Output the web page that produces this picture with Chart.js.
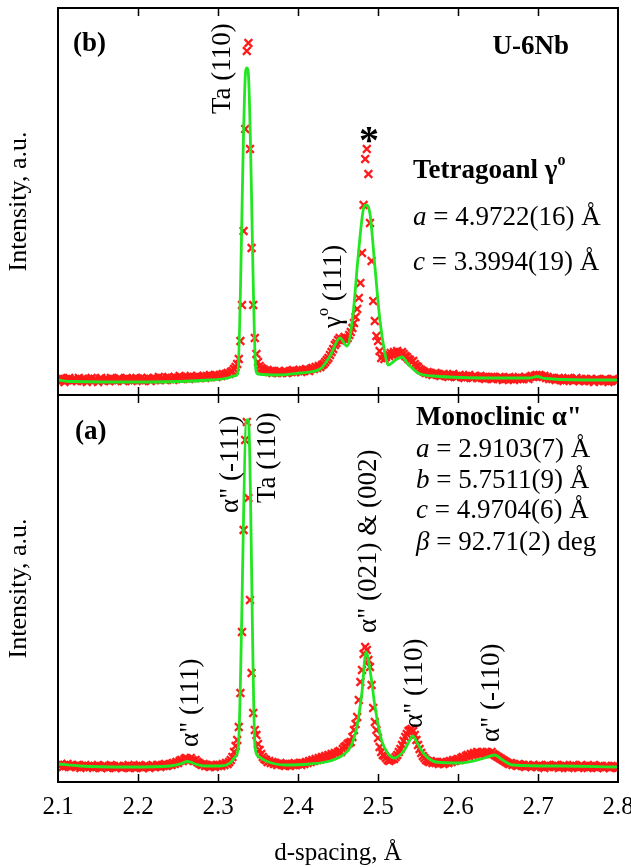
<!DOCTYPE html>
<html>
<head>
<meta charset="utf-8">
<title>U-6Nb diffraction</title>
<script src="https://cdn.jsdelivr.net/npm/chart.js@4.4.1/dist/chart.umd.min.js"></script>
<style>
  html, body { margin: 0; padding: 0; background: #fff; }
  #wrap { width: 631px; height: 867px; }
</style>
</head>
<body>
<div id="wrap"><canvas id="xrd" width="631" height="867"></canvas></div>
<script>
// d-spacing axis
const dTicks = [2.1, 2.2, 2.3, 2.4, 2.5, 2.6, 2.7, 2.8];
const dStart = 2.1;
const dStep = 0.002; // scan step of the observed data

// (b) top panel, observed intensity (a.u.) on the scan grid
const obsB = [
  16,14,17,15,13,16,15,17,14,15, 15,16,14,17,15,14,16,15,13,16,
  15,17,14,16,15,13,16,17,15,14, 16,15,14,17,15,16,14,15,17,16,
  15,14,16,17,15,16,14,16,15,17, 16,15,17,14,16,15,17,16,14,16,
  17,15,16,18,15,17,16,15,17,18, 16,17,15,18,16,17,19,16,17,18,
  17,18,16,19,17,18,17,19,18,17, 18,19,17,19,18,20,18,19,20,18,
  19,20,19,21,20,21,22,21,23,24, 26,28,31,36,54,90,164,266,344,352,
  246,147,90,57,41,33,29,27,26,25, 24,25,23,24,22,24,23,22,24,23,
  22,23,24,22,23,24,23,25,23,24, 24,25,23,25,24,26,25,24,26,27,
  26,28,27,29,28,30,31,33,35,37, 40,43,46,50,52,55,57,54,56,58,
  55,57,60,63,67,72,78,86,97,112, 142,190,236,246,221,172,134,94,74,59,
  54,44,37,40,36,38,41,39,42,40, 43,41,44,42,40,43,41,39,38,36,
  35,33,34,31,29,28,26,25,24,23, 22,23,21,22,20,21,22,20,21,19,
  20,21,19,20,18,20,19,21,19,18, 19,20,18,19,17,19,18,20,18,17,
  18,19,17,18,19,17,18,16,18,17, 17,18,16,18,17,16,18,17,15,17,
  16,17,18,16,17,15,17,16,18,16, 17,16,18,17,16,18,19,18,19,20,
  19,20,19,18,19,17,18,16,17,16, 17,15,16,17,15,16,14,16,15,17,
  15,16,14,15,17,15,14,16,15,14, 16,15,14,16,15,13,15,16,14,15,
  15,14,16,15,13,15,14,16,15,14,15
];

// (a) bottom panel, observed intensity (a.u.) on the scan grid
const obsA = [
  17,16,18,15,17,16,18,16,15,17, 16,15,17,16,14,16,15,17,15,16,
  15,16,14,16,15,17,15,14,16,15, 16,14,15,17,15,16,14,15,16,15,
  14,16,15,15,17,14,16,15,14,16, 15,17,15,14,16,15,16,14,15,17,
  16,15,17,16,15,17,16,18,16,17, 18,17,19,18,20,19,21,22,21,23,
  24,23,22,24,22,21,22,20,19,18, 17,18,16,17,16,15,17,16,15,17,
  16,17,16,18,17,19,18,20,22,25, 30,36,42,55,89,150,252,342,360,284,
  182,109,69,52,47,38,32,28,25,23, 22,20,21,19,20,18,19,17,18,19,
  17,18,16,18,17,16,18,17,19,17, 18,19,17,19,18,20,19,21,20,22,
  21,23,22,24,23,25,24,26,25,27, 26,28,27,29,28,30,31,30,33,35,
  36,38,39,40,45,52,58,65,82,100, 112,128,135,132,122,115,97,74,60,52,
  44,35,30,27,26,24,22,21,22,23, 23,25,27,30,33,37,41,45,48,51,
  52,53,51,47,42,37,33,29,26,24, 22,21,20,21,19,20,19,20,18,19,
  20,18,19,20,19,21,20,22,21,22, 23,22,24,25,24,26,27,26,28,27,
  29,28,30,29,28,30,29,28,30,29, 28,30,28,27,26,25,24,23,22,21,
  20,19,18,19,17,18,17,16,18,17, 16,17,15,16,17,16,15,17,16,15,
  16,17,15,16,14,16,17,15,16,16, 15,17,16,14,16,15,17,16,15,14,
  16,15,17,15,16,14,15,17,16,15, 16,14,15,16,15,17,15,14,16,15,
  16,14,15,16,15,14,16,15,16,15,14
];

// calculated profiles (fit)
const calcBD = [2.1, 2.115, 2.215, 2.29, 2.3125, 2.32, 2.3246, 2.3346, 2.3363, 2.3379, 2.3475, 2.35,
  2.3775, 2.4025, 2.4275, 2.44, 2.4525, 2.4613, 2.4688, 2.475, 2.4813, 2.485, 2.49, 2.4963,
  2.5025, 2.5088, 2.5125, 2.5188, 2.5238, 2.53, 2.5375, 2.55, 2.5688, 2.6525, 2.69, 2.6988,
  2.7088, 2.7775, 2.8];
const calcB = [15, 13.5, 13, 15, 17, 19, 21, 324, 327, 322, 24, 21,
  20, 22, 26, 39, 57, 49, 81, 137, 184, 190, 181, 127,
  74, 41, 30, 33, 36, 38, 31, 22, 19, 17, 17, 18.5,
  16.5, 15, 15];

const calcAD = [2.1, 2.1275, 2.19, 2.24, 2.2525, 2.2625, 2.2713, 2.2838, 2.3025, 2.315, 2.3213, 2.3254,
  2.3359, 2.3379, 2.3463, 2.35, 2.36, 2.3838, 2.415, 2.44, 2.4563, 2.4663, 2.4738, 2.48,
  2.485, 2.4913, 2.4963, 2.5044, 2.512, 2.52, 2.5321, 2.5398, 2.5433, 2.5498, 2.5575, 2.5725,
  2.6025, 2.6331, 2.6458, 2.6558, 2.6684, 2.7275, 2.8];
const calcA = [18, 16, 15, 16, 18, 20.5, 18, 16, 16, 19, 25, 35,
  362, 362, 35, 26, 21, 17, 18, 21, 27, 36, 56, 90,
  130, 105, 75, 42, 29, 24, 31, 42, 46, 38, 28, 20,
  19, 24, 27, 22, 17, 16, 15];

const serif = '"Liberation Serif", "Times New Roman", Times, serif';
const red = '#ff1a1a';
const green = '#22e622';

const R = (t, s = 27) => ({ t, font: `${s}px ${serif}` });
const I = (t, s = 27) => ({ t, font: `italic ${s}px ${serif}` });
const B = (t, s = 27) => ({ t, font: `bold ${s}px ${serif}` });
const SUP = (t, bold) => ({ t, font: `${bold ? 'bold ' : ''}16px ${serif}`, dy: -10 });

// text placed in data coordinates of each panel
const notes = [
  { axis: 'yb', d: 2.11875, v: 351, segs: [B('(b)')] },
  { axis: 'yb', d: 2.73875, v: 348, align: 'right', segs: [B('U-6Nb')] },
  { axis: 'yb', d: 2.30625, v: 281, rot: true, segs: [R('Ta (110)')] },
  { axis: 'yb', d: 2.445, v: 67, rot: true, segs: [R('γ'), SUP('o'), R(' (111)')] },
  { axis: 'yb', d: 2.48875, v: 252, align: 'center', segs: [B('*', 40)] },
  { axis: 'yb', d: 2.54375, v: 224, segs: [B('Tetragoanl γ'), SUP('o', true)] },
  { axis: 'yb', d: 2.54375, v: 177, segs: [I('a'), R(' = 4.9722(16) Å')] },
  { axis: 'yb', d: 2.54375, v: 132, segs: [I('c'), R(' = 3.3994(19) Å')] },

  { axis: 'ya', d: 2.12125, v: 350, segs: [B('(a)')] },
  { axis: 'ya', d: 2.5475, v: 364, segs: [B('Monoclinic α"')] },
  { axis: 'ya', d: 2.5475, v: 332, segs: [I('a'), R(' = 2.9103(7) Å')] },
  { axis: 'ya', d: 2.5475, v: 301, segs: [I('b'), R(' = 5.7511(9) Å')] },
  { axis: 'ya', d: 2.5475, v: 271, segs: [I('c'), R(' = 4.9704(6) Å')] },
  { axis: 'ya', d: 2.5475, v: 239, segs: [I('β'), R(' = 92.71(2) deg')] },
  { axis: 'ya', d: 2.26625, v: 35, rot: true, segs: [R('α" (111)')] },
  { axis: 'ya', d: 2.31625, v: 269, rot: true, segs: [R('α" (-111)')] },
  { axis: 'ya', d: 2.3625, v: 279, rot: true, segs: [R('Ta (110)')] },
  { axis: 'ya', d: 2.48875, v: 149, rot: true, segs: [R('α" (021) & (002)')] },
  { axis: 'ya', d: 2.54625, v: 54, rot: true, segs: [R('α" (110)')] },
  { axis: 'ya', d: 2.6425, v: 40, rot: true, segs: [R('α" (-110)')] },
];

const toPoints = (ds, vs) => ds.map((d, i) => ({ x: d, y: vs[i] }));
const gridPoints = (vs) => vs.map((v, i) => ({ x: +(dStart + i * dStep).toFixed(3), y: v }));

function drawRich(ctx, x, y, segs, rot, align) {
  ctx.save();
  ctx.translate(x, y);
  if (rot) ctx.rotate(-Math.PI / 2);
  ctx.textBaseline = 'middle';
  ctx.textAlign = 'left';
  let total = 0;
  segs.forEach(s => { ctx.font = s.font; total += ctx.measureText(s.t).width; });
  let cx = align === 'right' ? -total : align === 'center' ? -total / 2 : 0;
  segs.forEach(s => {
    ctx.font = s.font;
    ctx.fillText(s.t, cx, s.dy || 0);
    cx += ctx.measureText(s.t).width;
  });
  ctx.restore();
}

const framePlugin = {
  id: 'frame',
  afterDatasetsDraw(chart) {
    const { ctx, chartArea: a, scales } = chart;
    const mid = scales.yb.bottom;
    ctx.save();
    ctx.strokeStyle = '#000';
    ctx.lineWidth = 1.5;
    ctx.beginPath();
    dTicks.slice(1, -1).forEach(d => {
      const px = Math.round(scales.x.getPixelForValue(d)) + 0.5;
      [[a.top, 8], [mid, -8], [mid, 8], [a.bottom, -8]].forEach(([y0, len]) => {
        ctx.moveTo(px, y0);
        ctx.lineTo(px, y0 + len);
      });
    });
    ctx.stroke();
    ctx.lineWidth = 2;
    ctx.strokeRect(a.left, a.top, a.right - a.left, a.bottom - a.top);
    ctx.beginPath();
    ctx.moveTo(a.left, mid);
    ctx.lineTo(a.right, mid);
    ctx.stroke();

    ctx.fillStyle = '#000';
    notes.forEach(n => {
      const x = scales.x.getPixelForValue(n.d);
      const y = scales[n.axis].getPixelForValue(n.v);
      drawRich(ctx, x, y, n.segs, n.rot, n.align);
    });
    ctx.restore();
  }
};

const yAxis = (max) => ({
  type: 'linear',
  position: 'left',
  stack: 'panels',
  stackWeight: 1,
  min: 0,
  max: max,
  ticks: { display: false },
  grid: { display: false, drawTicks: false },
  border: { display: false },
  title: {
    display: true,
    text: 'Intensity, a.u.',
    color: '#000',
    font: { family: serif, size: 26 },
    padding: { top: 4, bottom: 0 }
  },
  afterFit: (s) => { s.width = 58; }
});

new Chart(document.getElementById('xrd'), {
  type: 'line',
  data: {
    datasets: [
      {
        label: 'calc (b)', yAxisID: 'yb',
        data: toPoints(calcBD, calcB),
        borderColor: green, borderWidth: 2.8, pointRadius: 0,
        cubicInterpolationMode: 'monotone', fill: false
      },
      {
        label: 'calc (a)', yAxisID: 'ya',
        data: toPoints(calcAD, calcA),
        borderColor: green, borderWidth: 2.8, pointRadius: 0,
        cubicInterpolationMode: 'monotone', fill: false
      },
      {
        label: 'obs (b)', yAxisID: 'yb',
        data: gridPoints(obsB),
        showLine: false, pointStyle: 'crossRot', pointRadius: 5.5,
        borderColor: red, backgroundColor: red, pointBorderWidth: 2.2
      },
      {
        label: 'obs (a)', yAxisID: 'ya',
        data: gridPoints(obsA),
        showLine: false, pointStyle: 'crossRot', pointRadius: 5.5,
        borderColor: red, backgroundColor: red, pointBorderWidth: 2.2
      }
    ]
  },
  options: {
    responsive: false,
    devicePixelRatio: 1,
    animation: false,
    events: [],
    layout: { padding: { left: 0, right: 13, top: 8, bottom: 0 } },
    plugins: { legend: { display: false }, tooltip: { enabled: false } },
    scales: {
      x: {
        type: 'linear',
        min: 2.1,
        max: 2.8,
        afterBuildTicks: (s) => { s.ticks = dTicks.map(v => ({ value: v })); },
        ticks: {
          color: '#000',
          font: { family: serif, size: 25 },
          padding: 10,
          maxRotation: 0,
          callback: (v) => v.toFixed(1)
        },
        grid: { display: false, drawTicks: false },
        border: { display: false },
        title: {
          display: true,
          text: 'd-spacing, Å',
          color: '#000',
          font: { family: serif, size: 25, lineHeight: 1.1 },
          padding: 0
        },
        afterFit: (s) => { s.height = 85; s.paddingLeft = 0; s.paddingRight = 0; }
      },
      // bottom panel first, top panel second (later axis stacks on top)
      ya: yAxis(387),
      yb: yAxis(387)
    }
  },
  plugins: [framePlugin]
});
</script>
</body>
</html>
